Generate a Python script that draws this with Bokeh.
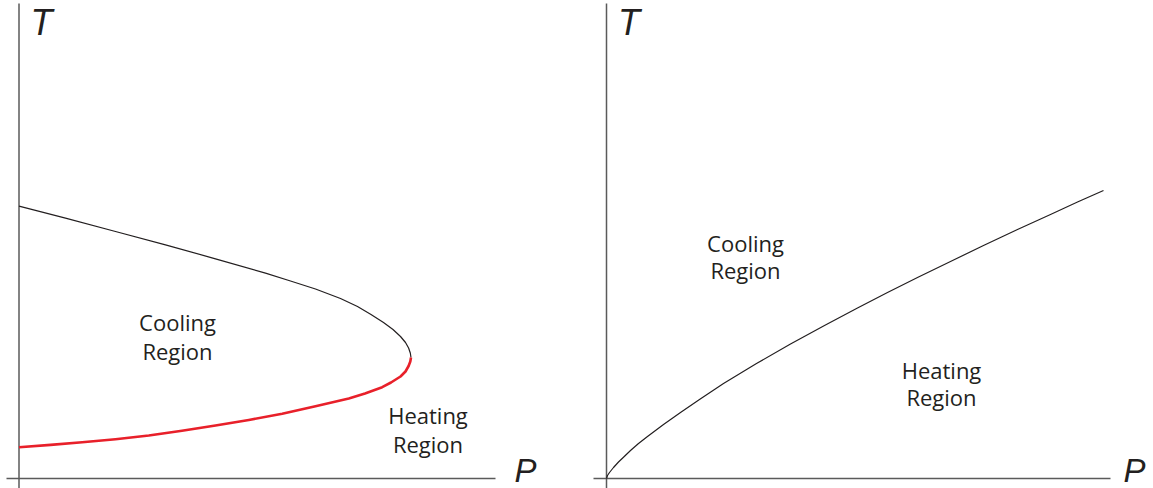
from bokeh.plotting import figure
from bokeh.layouts import row
from bokeh.core.properties import value
from bokeh.embed import file_html
from bokeh.resources import INLINE

# ---------------- data (schematic units) ----------------
# Left panel: upper (black) branch of the curve, P vs T
left_upper_p = [0, 46.5, 96.5, 146.5, 196.5, 246.5, 271.5, 296.5, 321.5, 338.5, 352,
                364.5, 374, 381.5, 386.5, 389.6, 391.3, 392]
left_upper_t = [272.3, 260.3, 247, 233.7, 219.7, 205.3, 197.5, 189.5, 180, 172, 164,
                156, 149, 142, 136, 130.5, 125.5, 121]
# Left panel: lower (red) branch
left_lower_p = [392, 391.3, 389.6, 386.5, 381.5, 372, 363.2, 346, 329.8, 296.5, 263.2,
                229.8, 196.5, 163, 129.8, 96.5, 63.2, 31.6, 0]
left_lower_t = [121, 117, 112.5, 107, 102, 96, 91.3, 85, 80, 72.3, 64.7,
                58.5, 53, 47.7, 43, 39.3, 36.3, 33.6, 31.3]

# Right panel: single curve
right_p = [0, 1, 3, 7, 12, 17, 24, 32, 41, 57, 74, 93, 117, 150, 184, 218, 251, 281,
           311, 344, 377, 411, 444, 471, 497]
right_t = [0, 3, 6, 11, 16.5, 21.3, 28, 35, 42, 54, 66, 79, 95, 115, 134.5, 153, 170.5,
           186, 201, 217, 233, 249, 264, 276.5, 288]

axis_label_y = "T"
axis_label_x = "P"
region_cooling = ["Cooling", "Region"]
region_heating = ["Heating", "Region"]

# ---------------- style ----------------
INK = "#231f20"
AXIS = "#5a5a5a"
RED = "#e8202a"
H = 488
TXT_SHIFT = 9.5   # compensation of the text baseline placement


def make_panel(x_start, width, haxis_start, haxis_end):
    p = figure(width=width, height=H, x_range=(x_start, x_start + width),
               y_range=(-10, H - 10), output_backend="svg", toolbar_location=None,
               x_axis_location=None, y_axis_location=None, min_border=0,
               min_border_left=0, min_border_right=0, min_border_top=0,
               min_border_bottom=0, tools="")
    p.grid.visible = False
    p.outline_line_color = None
    p.background_fill_color = "white"
    p.border_fill_color = "white"
    p.segment(x0=[0], y0=[-10], x1=[0], y1=[475], line_color=AXIS, line_width=1.5)
    p.segment(x0=[haxis_start], y0=[0], x1=[haxis_end], y1=[0],
              line_color=AXIS, line_width=1.5)
    return p


def add_axis_labels(p, px):
    p.text(x=[11.5], y=[443 + 13], text=[axis_label_y], text_font=value("Liberation Sans"),
           text_font_style="italic", text_font_size="36px", text_color=INK,
           text_baseline="alphabetic", text_align="left")
    p.text(x=[px], y=[-4 + 12], text=[axis_label_x], text_font=value("Liberation Sans"),
           text_font_style="italic", text_font_size="33px", text_color=INK,
           text_baseline="alphabetic", text_align="left")


def add_region(p, x, y_first, lines, spacing=28.5):
    for i, line in enumerate(lines):
        p.text(x=[x], y=[y_first - i * spacing + TXT_SHIFT], text=[line],
               text_font=value("Open Sans"), text_font_size="22px", text_color=INK,
               text_baseline="alphabetic", text_align="center")


# Left panel
left = make_panel(-18.5, 588, -12.5, 476.5)
left.line(left_upper_p, left_upper_t, line_color=INK, line_width=1.2, line_join="round")
left.line(left_lower_p, left_lower_t, line_color=RED, line_width=2.6, line_join="round")
add_axis_labels(left, 495.5)
add_region(left, 158.5, 147, region_cooling)
add_region(left, 409, 54, region_heating)

# Right panel
right = make_panel(-18, 565, -13, 504)
right.line(right_p, right_t, line_color=INK, line_width=1.2, line_join="round")
add_axis_labels(right, 517)
add_region(right, 139, 226.3, region_cooling, spacing=27.5)
add_region(right, 335, 98.7, region_heating, spacing=27.0)

layout = row(left, right, spacing=0)
open("out.html", "w").write(file_html(layout, INLINE))
